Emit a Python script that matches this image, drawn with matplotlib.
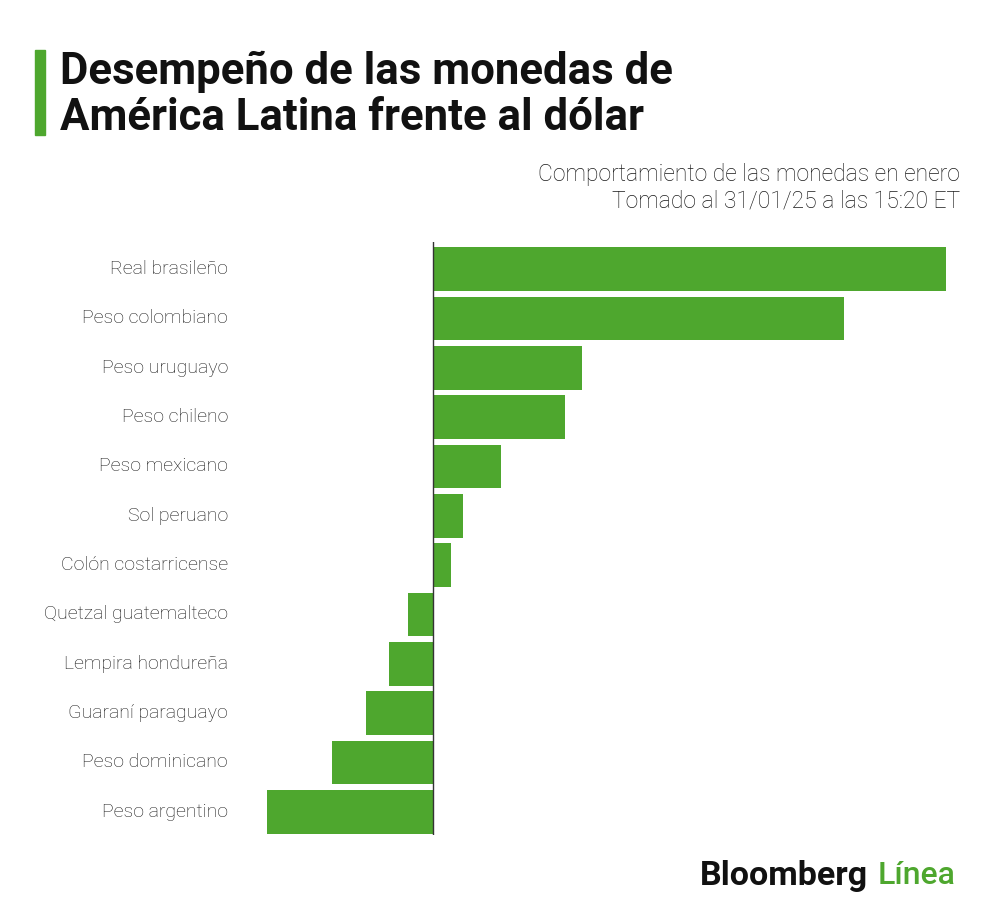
import matplotlib.pyplot as plt
from matplotlib.patches import Rectangle

# Variación % frente al dólar en enero 2025
monedas = ["Real brasileño", "Peso colombiano", "Peso uruguayo", "Peso chileno",
           "Peso mexicano", "Sol peruano", "Colón costarricense", "Quetzal guatemalteco",
           "Lempira hondureña", "Guaraní paraguayo", "Peso dominicano", "Peso argentino"]
variacion = [5.90, 4.72, 1.71, 1.52, 0.78, 0.34, 0.21, -0.29, -0.51, -0.77, -1.16, -1.91]

verde = "#4ea72e"

fig = plt.figure(figsize=(10, 9.17), dpi=100)

# eje principal: cero en x=433px, ~87 px por punto porcentual
ax = fig.add_axes([0.24, 0.0894, 0.72, 0.6467])
ax.barh(range(len(monedas)), variacion, height=0.89, color=verde)
ax.set_xlim((240 - 433) / 87, (960 - 433) / 87)
ax.set_ylim(11.47, -0.55)
ax.axvline(0, color="#333333", lw=1)
for s in ax.spines.values():
    s.set_visible(False)
ax.set_xticks([])
ax.set_yticks([])

for i, m in enumerate(monedas):
    fig.text(0.228, ax.transData.transform((0, i))[1] / fig.bbox.height, m,
             ha="right", va="center", fontsize=14, family="Roboto",
             weight="light", color="#1a1a1a")

# barra verde del título
fig.patches.append(Rectangle((0.035, 1 - 135 / 917), 0.010, 85 / 917,
                             transform=fig.transFigure, color=verde))
fig.text(0.06, 1 - 72 / 917, "Desempeño de las monedas de", fontsize=31.5,
         family="Roboto", weight="bold", va="center", color="#111111")
fig.text(0.06, 1 - 118 / 917, "América Latina frente al dólar", fontsize=31.5,
         family="Roboto", weight="bold", va="center", color="#111111")

fig.text(0.96, 1 - 175 / 917, "Comportamiento de las monedas en enero", fontsize=16.5,
         family="Roboto", weight="light", ha="right", va="center", color="#1a1a1a")
fig.text(0.96, 1 - 201 / 917, "Tomado al 31/01/25 a las 15:20 ET", fontsize=16.5,
         family="Roboto", weight="light", ha="right", va="center", color="#1a1a1a")

# logo
t1 = fig.text(0.70, 1 - 876 / 917, "Bloomberg", fontsize=24.5, family="Roboto",
              weight="bold", va="center", color="#111111")
fig.canvas.draw()
bb = t1.get_window_extent()
fig.text(bb.x1 / fig.bbox.width + 0.009, 1 - 876 / 917, "Línea", fontsize=23,
         family="Roboto", weight="medium", va="center", color=verde)

fig.savefig("out.png", dpi=100, facecolor="white")
